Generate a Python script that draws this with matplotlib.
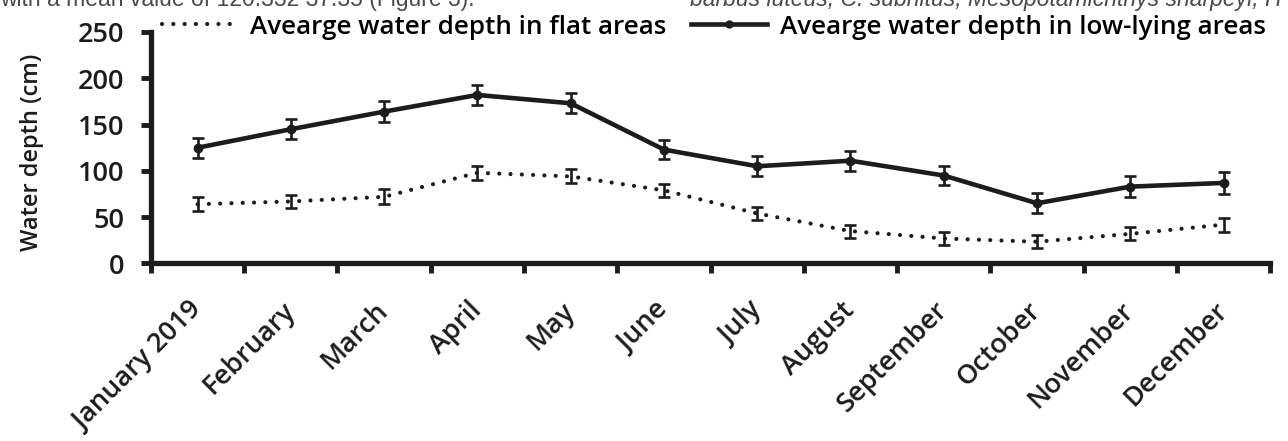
import numpy as np
import matplotlib
matplotlib.use('Agg')
import matplotlib.pyplot as plt
from matplotlib.lines import Line2D

# --- data ---
months = ['January 2019', 'February', 'March', 'April', 'May', 'June', 'July',
          'August', 'September', 'October', 'November', 'December']
flat_depth = [64, 67, 72, 98, 94, 79, 54, 35, 27, 23.5, 32, 42]
flat_err = [7.5, 7.5, 8, 7.5, 7.5, 7, 7, 7, 7, 7, 7, 7.5]
low_depth = [125, 145, 164, 182, 173, 123, 105, 111, 95, 65, 83, 87]
low_err = [11, 11, 11, 11, 11, 10.5, 11, 11, 10.5, 11, 11, 11.5]

ink = '#1c1c1c'
dotted = (0, (0.01, 2.7))
plt.rcParams['font.family'] = ['Open Sans', 'DejaVu Sans']

fig = plt.figure(figsize=(12.88, 4.41), dpi=100)
ax = fig.add_axes([0.1172, 0.4025, 0.869, 0.5250])

x = np.arange(len(months)) + 0.5

ax.errorbar(x, flat_depth, yerr=flat_err, color=ink, lw=3.0, linestyle=dotted,
            dash_capstyle='round', elinewidth=1.9, capsize=4.5, capthick=1.9)
ax.errorbar(x, low_depth, yerr=low_err, color=ink, lw=3.3, marker='o', markersize=6,
            elinewidth=1.9, capsize=4.5, capthick=1.9)

ax.set_xlim(0, 12)
ax.set_ylim(0, 250)
ax.set_yticks([0, 50, 100, 150, 200, 250])
ax.set_xticks(np.arange(13))
ax.set_xticklabels([])
ax.set_xticks(x, minor=True)
ax.set_xticklabels(months, minor=True, rotation=45, ha='right', va='center',
                   rotation_mode='anchor', fontsize=19.5, color=ink, fontweight='semibold')
ax.tick_params(axis='x', which='minor', length=0, pad=31)
ax.tick_params(axis='both', which='major', length=7, width=3.5, color=ink,
               labelsize=19.5, labelcolor=ink)
ax.tick_params(axis='y', pad=12)
for lab in ax.get_yticklabels():
    lab.set_fontweight('semibold')

for s in ['top', 'right']:
    ax.spines[s].set_visible(False)
for s in ['left', 'bottom']:
    ax.spines[s].set_linewidth(3.8)
    ax.spines[s].set_color(ink)

ax.set_ylabel('Water depth (cm)', fontsize=17, fontweight='semibold', color=ink)
ax.yaxis.set_label_coords(-0.096, 0.48)

# legend shows the plain line styles, no error bars
handles = [Line2D([], [], color=ink, lw=3.0, linestyle=dotted, dash_capstyle='round'),
           Line2D([], [], color=ink, lw=3.3, marker='o', markersize=5)]
labels = ['Avearge water depth in flat areas', 'Avearge water depth in low-lying areas']
fig.legend(handles, labels, loc='center left', bbox_to_anchor=(162 / 1288, 1 - 27 / 441),
           ncol=2, frameon=False, borderaxespad=0, borderpad=0,
           handlelength=2.9, handletextpad=0.5, columnspacing=0.95,
           prop={'size': 18.7, 'weight': 'semibold'})

# clipped body text from the page above the figure
fig.text(0.0, 1 - 6 / 441, 'with a mean value of 120.332 37.35 (Figure 3).',
         fontsize=16.5, color='#4a4a4a', family='Liberation Sans', va='baseline')
fig.text(690 / 1288, 1 - 6 / 441, 'barbus luteus, C. subnitus, Mesopotamichthys sharpeyi, H',
         fontsize=16.5, color='#4a4a4a', family='Liberation Sans', style='italic', va='baseline')

fig.savefig('out.png', dpi=100)
